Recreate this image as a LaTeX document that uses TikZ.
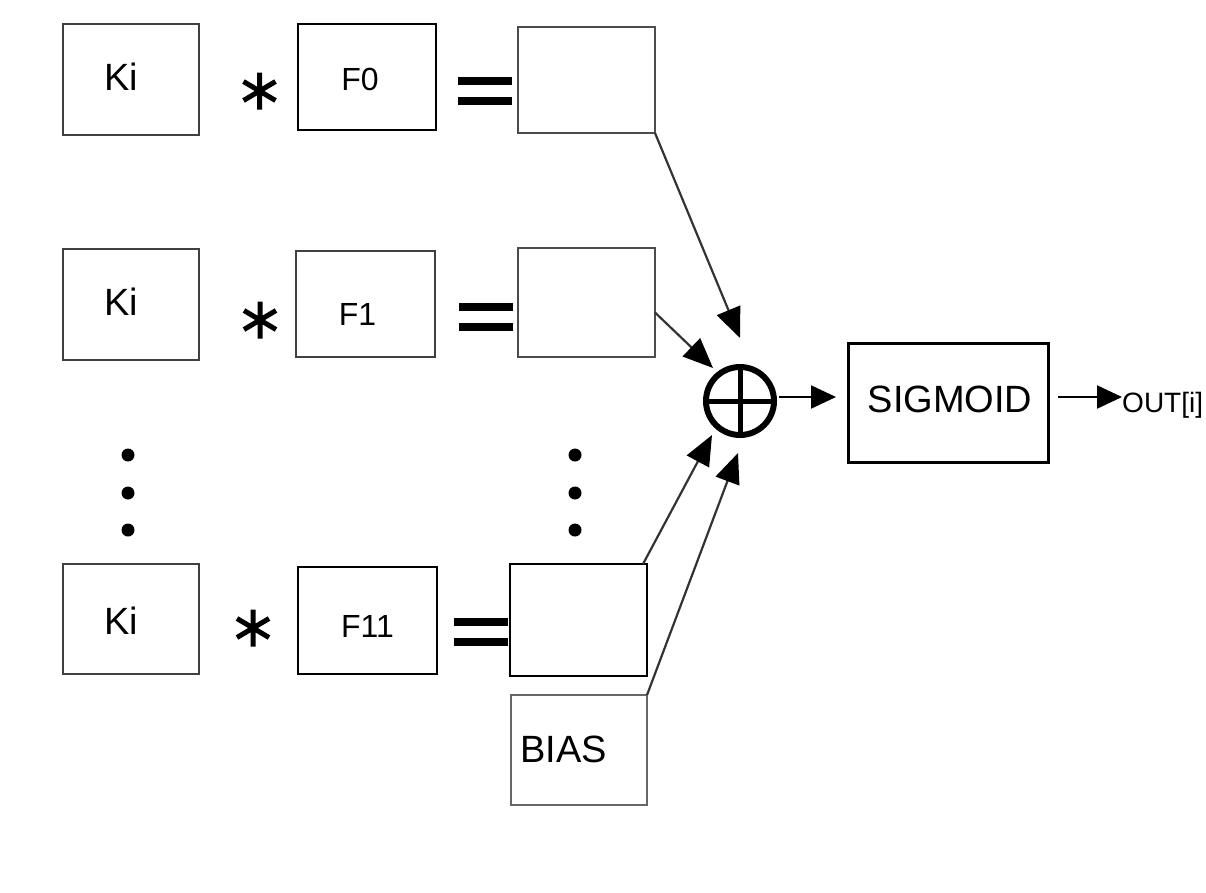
\documentclass[tikz,border=0pt]{standalone}
\usepackage{fontspec}
\setmainfont{Liberation Sans}
\usetikzlibrary{arrows.meta}
\begin{document}
\begin{tikzpicture}[x=1pt,y=-1pt,
  box/.style={draw=#1, line width=1.5pt, inner sep=0pt, outer sep=0pt},
  box/.default=black,
  lbl/.style={inner sep=0pt, anchor=base, font=\fontsize{38}{38}\selectfont},
  flbl/.style={inner sep=0pt, anchor=base, font=\fontsize{32}{32}\selectfont},
  conn/.style={draw=black!80, line width=2.2pt, -{Triangle[length=30pt,width=25pt,color=black]}},
  sconn/.style={draw=black, line width=2.2pt, -{Triangle[length=25pt,width=23pt]}},
  dotm/.style={circle, fill=black, minimum size=13pt, inner sep=0pt},
  ast/.pic={\draw[line width=5pt] (0,-18.5)--(0,18.5) (-16,-9.5)--(16,9.5) (-16,9.5)--(16,-9.5);},
  eqs/.pic={\fill (-27,-14) rectangle (27,-6); \fill (-27,6) rectangle (27,14);}
]
\useasboundingbox (0,0) rectangle (1206,892);

% row 0
\node[box=black!75, minimum width=136pt, minimum height=111pt] (k0) at (131,79.5) {};
\node[lbl] (k0t) at (121,90) {Ki};
\pic at (259.5,91) {ast};
\node[box, minimum width=138pt, minimum height=106pt] (f0) at (367,77) {};
\node[flbl] (f0t) at (360,90) {F0};
\pic at (485,91) {eqs};
\node[box=black!70, minimum width=137pt, minimum height=106pt] (r0) at (586.5,80) {};

% row 1
\node[box=black!75, minimum width=136pt, minimum height=111pt] (k1) at (131,304.5) {};
\node[lbl] (k1t) at (121,315) {Ki};
\pic at (260,320) {ast};
\node[box=black!75, minimum width=139pt, minimum height=106pt] (f1) at (365.5,304) {};
\node[flbl] (f1t) at (357.5,325) {F1};
\pic at (486,317) {eqs};
\node[box=black!70, minimum width=137pt, minimum height=109pt] (r1) at (586.5,302.5) {};

% dots
\node[dotm] (dl1) at (128,455) {};
\node[dotm] (dl2) at (128,493) {};
\node[dotm] (dl3) at (128,530) {};
\node[dotm] (dr1) at (575,455) {};
\node[dotm] (dr2) at (575,493) {};
\node[dotm] (dr3) at (575,530) {};

% row 2
\node[box=black!75, minimum width=136pt, minimum height=110pt] (k2) at (131,619) {};
\node[lbl] (k2t) at (121,634) {Ki};
\pic at (253,628) {ast};
\node[box, minimum width=139pt, minimum height=107pt] (f11) at (367.5,620.5) {};
\node[flbl] (f11t) at (367.5,637) {F11};
\pic at (481,632) {eqs};
\node[box, minimum width=137pt, minimum height=112pt] (r2) at (578.5,620) {};

% bias
\node[box=black!60, minimum width=136pt, minimum height=110pt] (bias) at (579,750) {};
\node[lbl, anchor=base west] (biast) at (520,762) {BIAS};

% sum
\node[circle, draw, line width=6pt, minimum size=68pt, inner sep=0pt, outer sep=0pt] (sum) at (740,401) {};
\draw[line width=5pt] (sum.north) -- (sum.south) (sum.west) -- (sum.east);

% sigmoid
\node[box, line width=3pt, minimum width=200pt, minimum height=119pt] (sig) at (948,402.5) {};
\node[lbl] (sigt) at (950,412) {SIGMOID};
\node[inner sep=0pt, anchor=base west, font=\fontsize{28}{28}\selectfont] (out) at (1122,412) {OUT[i]};

% tips
\coordinate (t0) at (740,338);
\coordinate (t1) at (713,368);
\coordinate (t2) at (712,435);
\coordinate (t3) at (738,453);

\draw[conn] (r0.south east) -- (t0);
\draw[conn] ([yshift=-10pt]r1.east) -- (t1);
\draw[conn] ([xshift=-4pt]r2.north east) -- (t2);
\draw[conn] (bias.north east) -- (t3);

\draw[sconn, shorten <=5pt, shorten >=12pt] (sum.east |- 0,397) -- (sig.west |- 0,397);
\draw[sconn, shorten <=10pt] (sig.east |- 0,397) -- (out.west |- 0,397);
\end{tikzpicture}
\end{document}
